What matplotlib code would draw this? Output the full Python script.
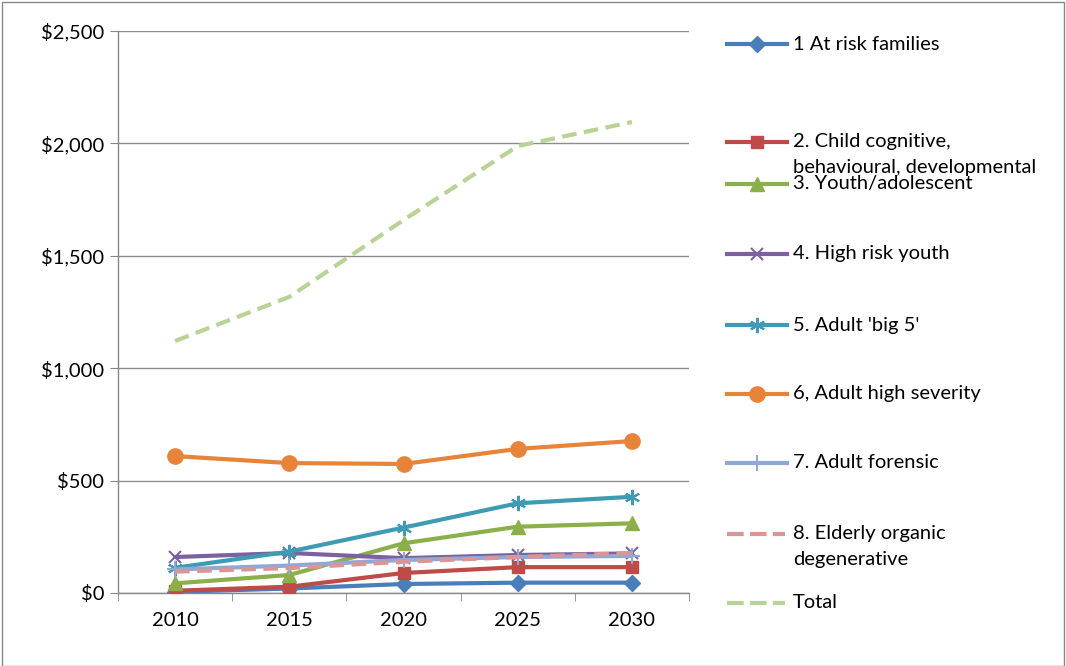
import matplotlib
matplotlib.use("Agg")
import matplotlib.pyplot as plt
from matplotlib.patches import Rectangle
from matplotlib.ticker import FuncFormatter, MultipleLocator

plt.rcParams['font.family'] = ['Lato', 'DejaVu Sans']

years = ['2010', '2015', '2020', '2025', '2030']

at_risk = [5, 20, 40, 46, 46]
child = [10, 28, 89, 115, 115]
youth = [43, 80, 221, 295, 310]
high_risk = [160, 178, 155, 169, 176]
big5 = [112, 184, 291, 399, 428]
severity = [609, 578, 574, 641, 676]
forensic = [105, 122, 147, 160, 165]
elderly = [95, 111, 139, 160, 178]
total = [1121, 1317, 1659, 1988, 2095]

labels = ['1 At risk families',
          '2. Child cognitive,\nbehavioural, developmental',
          '3. Youth/adolescent',
          '4. High risk youth',
          "5. Adult 'big 5'",
          '6, Adult high severity',
          '7. Adult forensic',
          '8. Elderly organic\ndegenerative',
          'Total']

series = [at_risk, child, youth, high_risk, big5, severity, forensic, elderly, total]
colors = ['#4A7EBB', '#BE4B48', '#8BAF4B', '#7D60A0', '#3E9BB3', '#E8833A',
          '#8FA9D6', '#D99694', '#B9D296']
markers = ['D', 's', '^', 'x', (6, 2, 0), 'o', '+', None, None]
msizes = [8, 9, 10, 9, 11, 11, 11, 0, 0]
dashed = [False] * 7 + [True, True]
thin = ('x', '+', (6, 2, 0))

fig = plt.figure(figsize=(10.66, 6.66), dpi=100)
ax = fig.add_axes([118 / 1066, 1 - 593 / 666, (689 - 118) / 1066, (593 - 31) / 666])

x = range(len(years))
for s, c, m, ms, d in zip(series, colors, markers, msizes, dashed):
    kw = dict(color=c, lw=3, solid_capstyle='round')
    if d:
        kw.update(linestyle=(0, (3.5, 1.8)), dash_capstyle='butt')
    ax.plot(x, s, marker=m, markersize=ms, markeredgewidth=1.5 if m in thin else 1,
            markeredgecolor=c, markerfacecolor=c, zorder=3, **kw)

ax.set_xlim(-0.5, 4.5)
ax.set_ylim(0, 2500)
ax.set_xticks(list(x))
ax.set_xticklabels(years)
ax.set_xticks([i - 0.5 for i in range(6)], minor=True)
ax.tick_params(axis='x', which='major', length=0, pad=14, labelsize=14.5)
ax.tick_params(axis='x', which='minor', length=6, color='#888888')
ax.yaxis.set_major_locator(MultipleLocator(500))
ax.yaxis.set_major_formatter(FuncFormatter(lambda v, p: '${:,.0f}'.format(v)))
ax.tick_params(axis='y', length=6, color='#888888', labelsize=14.5, pad=4)
ax.grid(axis='y', color='#8c8c8c', lw=1)
ax.set_axisbelow(True)
for sp in ['top', 'right']:
    ax.spines[sp].set_visible(False)
for sp in ['left', 'bottom']:
    ax.spines[sp].set_color('#888888')
    ax.spines[sp].set_linewidth(1)

# legend drawn on an overlay in pixel coordinates
lg = fig.add_axes([0, 0, 1, 1])
lg.set_xlim(0, 1066)
lg.set_ylim(666, 0)
lg.axis('off')
lg.patch.set_alpha(0)
ys = [44, 142, 184, 254, 325, 394, 463, 534, 603]
for yy, lab, c, m, ms, d in zip(ys, labels, colors, markers, msizes, dashed):
    if d:
        lg.plot([727, 785], [yy, yy], color=c, lw=3, linestyle=(0, (4, 1.5)))
    else:
        lg.plot([727, 757, 787], [yy, yy, yy], color=c, lw=3, marker=m, markevery=[1],
                markersize=ms, markeredgecolor=c, markerfacecolor=c,
                markeredgewidth=1.5 if m in thin else 1)
    first, *rest = lab.split('\n')
    lg.text(793, yy, first, va='center', fontsize=14.5)
    for k, r in enumerate(rest):
        lg.text(793, yy + 26 * (k + 1), r, va='center', fontsize=14.5)

fig.add_artist(Rectangle((2 / 1066, 0), 1 - 4 / 1066, 1 - 2 / 666, transform=fig.transFigure,
                         fill=False, edgecolor='#888888', lw=1))

fig.savefig('out.png', dpi=100)
